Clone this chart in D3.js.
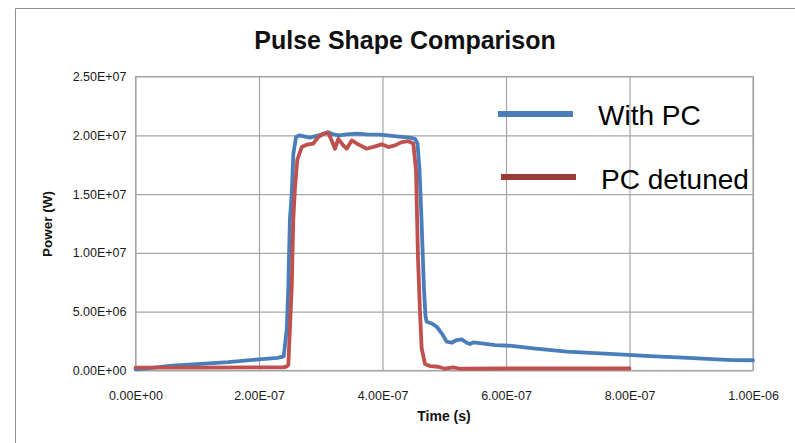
<!DOCTYPE html>
<html>
<head>
<meta charset="utf-8">
<script src="https://cdn.jsdelivr.net/npm/d3@7"></script>
<style>
  html, body { margin: 0; padding: 0; background: #fff; }
  svg { display: block; font-family: "Liberation Sans", Arial, sans-serif; }
</style>
</head>
<body>
<svg id="chart" width="795" height="443"></svg>
<script>
// Pulse power traces (time in seconds, power in watts)
const seriesNames = ["With PC", "PC detuned"];

const timeWithPC = [
  0, 0.03e-6, 0.06e-6, 0.10e-6, 0.15e-6, 0.20e-6, 0.23e-6, 0.24e-6, 0.245e-6,
  0.2475e-6, 0.250e-6, 0.253e-6, 0.2556e-6, 0.260e-6, 0.2657e-6, 0.2823e-6,
  0.2934e-6, 0.3041e-6, 0.3122e-6, 0.3200e-6, 0.3306e-6, 0.3414e-6, 0.3582e-6,
  0.3744e-6, 0.3960e-6, 0.4230e-6, 0.4446e-6, 0.4527e-6, 0.4567e-6, 0.4600e-6,
  0.4632e-6, 0.4670e-6, 0.4697e-6, 0.4716e-6, 0.4797e-6, 0.4878e-6, 0.4959e-6,
  0.5040e-6, 0.5121e-6, 0.5202e-6, 0.5283e-6, 0.5364e-6, 0.5417e-6, 0.5470e-6,
  0.5607e-6, 0.5822e-6, 0.6092e-6, 0.6442e-6, 0.6983e-6, 0.7522e-6, 0.7981e-6,
  0.8332e-6, 0.8871e-6, 0.9412e-6, 0.9681e-6, 1.0e-6
];
const powerWithPC = [
  0.10e6, 0.25e6, 0.42e6, 0.55e6, 0.72e6, 0.95e6, 1.08e6, 1.20e6, 3.5e6,
  7.1e6, 12.8e6, 15.0e6, 18.4e6, 19.85e6, 20.0e6, 19.8e6,
  19.95e6, 20.1e6, 20.27e6, 20.08e6, 20.0e6, 20.08e6, 20.14e6,
  20.08e6, 20.05e6, 19.9e6, 19.8e6, 19.7e6, 19.3e6, 17.0e6,
  12.8e6, 7.1e6, 4.57e6, 4.14e6, 4.0e6, 3.72e6, 3.16e6,
  2.45e6, 2.36e6, 2.59e6, 2.65e6, 2.36e6, 2.25e6, 2.39e6,
  2.31e6, 2.16e6, 2.10e6, 1.88e6, 1.60e6, 1.46e6, 1.32e6,
  1.23e6, 1.09e6, 0.95e6, 0.89e6, 0.87e6
];

const timeDetuned = [
  0, 0.10e-6, 0.20e-6, 0.240e-6, 0.2450e-6, 0.2475e-6, 0.2500e-6, 0.2530e-6,
  0.2555e-6, 0.2583e-6, 0.2620e-6, 0.2692e-6, 0.2772e-6, 0.2879e-6, 0.2960e-6,
  0.3041e-6, 0.3122e-6, 0.3177e-6, 0.3231e-6, 0.3284e-6, 0.3365e-6, 0.3420e-6,
  0.3501e-6, 0.3608e-6, 0.3744e-6, 0.3879e-6, 0.3987e-6, 0.4094e-6, 0.4202e-6,
  0.4311e-6, 0.4418e-6, 0.4499e-6, 0.4543e-6, 0.4575e-6, 0.4607e-6, 0.4634e-6,
  0.4688e-6, 0.4769e-6, 0.4904e-6, 0.5012e-6, 0.5147e-6, 0.5255e-6, 0.60e-6,
  0.80e-6
];
const powerDetuned = [
  0.25e6, 0.25e6, 0.26e6, 0.27e6, 0.35e6, 0.47e6, 3.5e6, 7.1e6,
  12.8e6, 15.6e6, 17.9e6, 19.0e6, 19.2e6, 19.3e6, 19.85e6,
  20.14e6, 20.2e6, 19.56e6, 18.86e6, 19.7e6, 19.14e6, 18.86e6,
  19.56e6, 19.23e6, 18.86e6, 19.06e6, 19.23e6, 19.0e6, 19.14e6,
  19.42e6, 19.5e6, 19.3e6, 17.0e6, 9.5e6, 5.0e6, 1.9e6,
  0.55e6, 0.38e6, 0.32e6, 0.15e6, 0.27e6, 0.15e6, 0.17e6,
  0.17e6
];

const xTicks = [0, 2e-7, 4e-7, 6e-7, 8e-7, 1e-6];
const yTicks = [0, 5e6, 1e7, 1.5e7, 2e7, 2.5e7];

const colors = ["#4A7EBB", "#C0504D"];
const legendColors = ["#4A7EBB", "#9B3A37"];

const svg = d3.select("#chart");
const margin = { left: 135.5, top: 76.5, right: 795 - 753, bottom: 443 - 370.5 };
const W = 795 - margin.left - margin.right;
const H = 443 - margin.top - margin.bottom;

// Excel-style scientific notation, e.g. 2.50E+07
function sci(v) {
  const [m, e] = v.toExponential(2).split("e");
  const n = +e;
  const sign = n < 0 ? "-" : "+";
  return m + "E" + sign + String(Math.abs(n)).padStart(2, "0");
}

// outer chart border (left and top edges)
svg.append("path")
  .attr("d", "M15.5,443 L15.5,8.5 L795,8.5")
  .attr("fill", "none").attr("stroke", "#8E8E8E").attr("stroke-width", 1);

svg.append("text")
  .attr("x", 405).attr("y", 49)
  .attr("text-anchor", "middle")
  .attr("font-size", 25).attr("font-weight", "bold").attr("fill", "#111")
  .text("Pulse Shape Comparison");

const x = d3.scaleLinear().domain([0, 1e-6]).range([0, W]);
const y = d3.scaleLinear().domain([0, 2.5e7]).range([H, 0]);

const g = svg.append("g").attr("transform", `translate(${margin.left},${margin.top})`);

// gridlines + tick labels
const gy = g.append("g")
  .call(d3.axisLeft(y).tickValues(yTicks).tickFormat(sci).tickSize(-W).tickPadding(9));
const gx = g.append("g").attr("transform", `translate(0,${H})`)
  .call(d3.axisBottom(x).tickValues(xTicks).tickFormat(sci).tickSize(-H).tickPadding(21));
[gx, gy].forEach(a => {
  a.select(".domain").remove();
  a.selectAll(".tick line").attr("stroke", "#A6A6A6").attr("stroke-width", 1.2);
  a.selectAll(".tick text")
    .attr("font-family", "Liberation Sans, Arial, sans-serif")
    .attr("font-size", 12.5).attr("fill", "#1a1a1a");
});

g.append("rect").attr("width", W).attr("height", H)
  .attr("fill", "none").attr("stroke", "#A6A6A6").attr("stroke-width", 1.2);

// axis titles
svg.append("text")
  .attr("x", 444).attr("y", 421)
  .attr("text-anchor", "middle")
  .attr("font-size", 14).attr("font-weight", "bold").attr("fill", "#111")
  .text("Time (s)");
svg.append("text")
  .attr("transform", "translate(52,224) rotate(-90)")
  .attr("text-anchor", "middle")
  .attr("font-size", 13.5).attr("font-weight", "bold").attr("fill", "#111")
  .text("Power (W)");

// traces
const line = d3.line().x(d => x(d[0])).y(d => y(d[1]));
const traces = [
  d3.zip(timeWithPC, powerWithPC),
  d3.zip(timeDetuned, powerDetuned)
];
traces.forEach((t, i) => {
  g.append("path").datum(t)
    .attr("d", line).attr("fill", "none")
    .attr("stroke", colors[i]).attr("stroke-width", 3.8)
    .attr("stroke-linejoin", "round").attr("stroke-linecap", "round");
});

// legend
const legendRows = [
  { x1: 498, x2: 573, ly: 114, tx: 598, ty: 125 },
  { x1: 501, x2: 576, ly: 177, tx: 601, ty: 189 }
];
legendRows.forEach((r, i) => {
  svg.append("line")
    .attr("x1", r.x1).attr("x2", r.x2).attr("y1", r.ly).attr("y2", r.ly)
    .attr("stroke", legendColors[i]).attr("stroke-width", 6);
  svg.append("text")
    .attr("x", r.tx).attr("y", r.ty)
    .attr("font-size", 28).attr("fill", "#000")
    .text(seriesNames[i]);
});
</script>
</body>
</html>
